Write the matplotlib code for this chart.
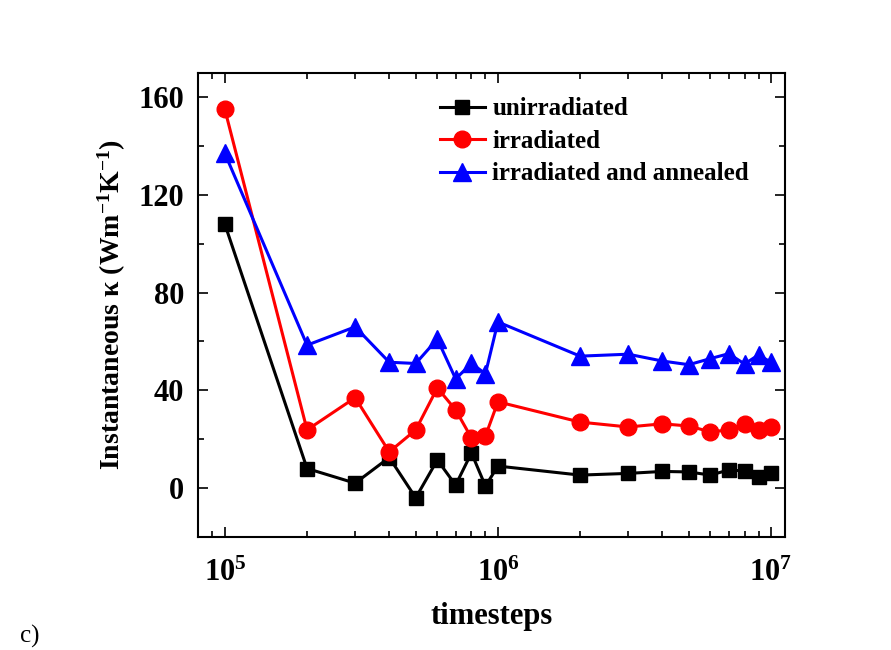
import math
import matplotlib
matplotlib.use("Agg")
import matplotlib.pyplot as plt
from matplotlib.ticker import MultipleLocator, LogLocator, FuncFormatter, NullFormatter

# data
timesteps = [1e5, 2e5, 3e5, 4e5, 5e5, 6e5, 7e5, 8e5, 9e5, 1e6,
             2e6, 3e6, 4e6, 5e6, 6e6, 7e6, 8e6, 9e6, 1e7]
unirradiated = [108, 8, 2, 12.5, -4, 11.5, 1.2, 14.4, 0.8, 9,
                5.3, 6, 6.8, 6.6, 5.3, 7.4, 7, 4.5, 6]
irradiated = [155, 23.8, 37, 14.8, 23.8, 41, 32, 20.5, 21.3, 35.3,
              27, 25, 26.3, 25.4, 23, 23.8, 26.3, 23.8, 25]
irr_annealed = [137, 58.5, 66, 51.5, 51, 61, 44.7, 51, 46.8, 68,
                54, 54.8, 52, 50.5, 53, 55, 50.8, 54.5, 51.5]

series_labels = ["unirradiated", "irradiated", "irradiated and annealed"]

plt.rcParams["font.family"] = "Liberation Serif"
plt.rcParams["font.weight"] = "bold"
plt.rcParams["mathtext.fontset"] = "custom"
plt.rcParams["mathtext.rm"] = "Liberation Serif:bold"
plt.rcParams["mathtext.bf"] = "Liberation Serif:bold"
plt.rcParams["mathtext.it"] = "Liberation Serif:bold:italic"

fig = plt.figure(figsize=(8.91, 6.5), dpi=100)
ax = fig.add_axes([0.222, 0.174, 0.659, 0.714])

ax.plot(timesteps, unirradiated, color="black", marker="s", ms=10.5, lw=2.2,
        label=series_labels[0])
ax.plot(timesteps, irradiated, color="red", marker="o", ms=12, lw=2.2,
        label=series_labels[1])
ax.plot(timesteps, irr_annealed, color="blue", marker="^", ms=13, lw=2.2,
        label=series_labels[2])

ax.set_xscale("log")
ax.set_xlim(7.96e4, 1.125e7)
ax.set_ylim(-20, 170)

ax.yaxis.set_major_locator(MultipleLocator(40))
ax.yaxis.set_minor_locator(MultipleLocator(20))
ax.xaxis.set_major_locator(LogLocator(base=10, numticks=10))
ax.xaxis.set_minor_locator(LogLocator(base=10, subs=range(2, 10), numticks=20))
ax.xaxis.set_minor_formatter(NullFormatter())
ax.xaxis.set_major_formatter(FuncFormatter(lambda v, p: r"$10^{%d}$" % round(math.log10(v))))

ax.tick_params(which="both", direction="in", top=True, right=True, width=1.2)
ax.tick_params(which="major", length=7, labelsize=22)
ax.tick_params(axis="y", which="major", pad=10)
ax.tick_params(axis="x", which="major", pad=16)
ax.tick_params(which="minor", length=4)
for s in ax.spines.values():
    s.set_linewidth(1.5)

ax.set_xlabel("timesteps", fontsize=22, fontweight="bold", labelpad=10)
ax.set_ylabel(r"Instantaneous κ (Wm$^{-1}$K$^{-1}$)", fontsize=20,
              fontweight="bold", labelpad=7)

leg = ax.legend(loc="upper left", bbox_to_anchor=(0.412, 0.947), frameon=False,
                fontsize=18, handlelength=1.8, handletextpad=0.3,
                labelspacing=0.38, borderpad=0, borderaxespad=0)

fig.text(0.022, 0.012, "c)", fontsize=18, fontweight="normal")

fig.savefig("out.png", dpi=100)
